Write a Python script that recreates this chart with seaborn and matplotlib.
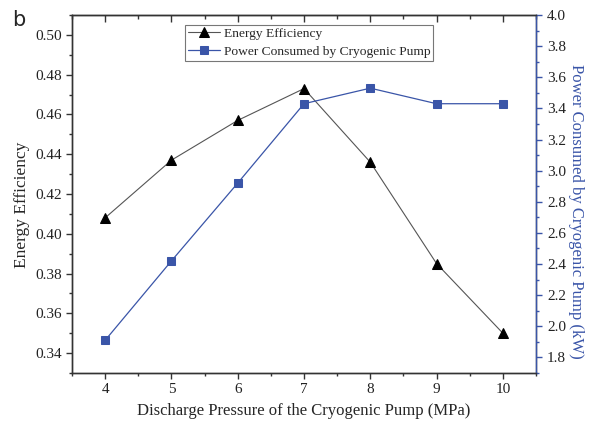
import matplotlib
matplotlib.use("Agg")
import matplotlib.pyplot as plt
import seaborn as sns
import pandas as pd
from matplotlib.ticker import MultipleLocator, FormatStrFormatter

pressure = [4, 5, 6, 7, 8, 9, 10]
energy_eff = [0.408, 0.437, 0.457, 0.473, 0.436, 0.385, 0.350]
power_kw = [1.91, 2.42, 2.92, 3.43, 3.53, 3.43, 3.43]

sns.set_style("ticks")
plt.rcParams['font.family'] = ['Liberation Serif', 'DejaVu Serif']

blue = "#3a55a8"
df = pd.DataFrame({"p": pressure, "e": energy_eff, "w": power_kw})

fig = plt.figure(figsize=(5.93, 4.25), dpi=100)
ax = fig.add_axes([0.1214, 0.1224, 0.7825, 0.8423])
ax2 = ax.twinx()

sns.lineplot(data=df, x="p", y="e", ax=ax, color="#555555", lw=0.8,
             marker="^", markersize=7, markerfacecolor="black",
             markeredgecolor="black", label="Energy Efficiency", legend=False)
sns.lineplot(data=df, x="p", y="w", ax=ax2, color=blue, lw=0.9,
             marker="s", markersize=6, markerfacecolor=blue,
             markeredgecolor=blue, label="Power Consumed by Cryogenic Pump", legend=False)

ax.set_xlim(3.5, 10.5)
ax.set_ylim(0.33, 0.51)
ax2.set_ylim(1.7, 4.0)
ax.xaxis.set_major_locator(MultipleLocator(1))
ax.xaxis.set_minor_locator(MultipleLocator(0.5))
ax.yaxis.set_major_locator(MultipleLocator(0.02))
ax.yaxis.set_minor_locator(MultipleLocator(0.01))
ax2.yaxis.set_major_locator(MultipleLocator(0.2))
ax2.yaxis.set_minor_locator(MultipleLocator(0.1))
ax.yaxis.set_major_formatter(FormatStrFormatter('%.2f'))
ax2.yaxis.set_major_formatter(FormatStrFormatter('%.1f'))

ax.set_xlabel("Discharge Pressure of the Cryogenic Pump (MPa)", fontsize=12, labelpad=5)
ax.set_ylabel("Energy Efficiency", fontsize=12.5, labelpad=4)
ax.yaxis.label.set_y(0.469)
ax2.set_ylabel("Power Consumed by Cryogenic Pump (kW)", fontsize=12, color=blue,
               rotation=270, labelpad=13)
ax2.yaxis.label.set_y(0.4525)

for a in (ax, ax2):
    for s in a.spines.values():
        s.set_linewidth(1.0)
        s.set_color("#333333")
ax2.spines['right'].set_color(blue)

ax.tick_params(axis='both', which='major', direction='out', length=4, width=1,
               labelsize=11, colors="#333333", labelcolor="#222222", pad=3)
ax.tick_params(axis='both', which='minor', direction='out', length=2.5, width=1, colors="#333333")
ax2.tick_params(axis='y', which='major', direction='out', length=4, width=1,
                labelsize=11, colors=blue, labelcolor="#222222", pad=4)
ax2.tick_params(axis='y', which='minor', direction='out', length=2.5, width=1, colors=blue)

top = ax.secondary_xaxis('top')
top.xaxis.set_major_locator(MultipleLocator(1))
top.xaxis.set_minor_locator(MultipleLocator(0.5))
top.tick_params(axis='x', which='major', direction='in', length=5, width=1,
                colors="#333333", labeltop=False)
top.tick_params(axis='x', which='minor', direction='in', length=3, width=1, colors="#333333")
top.spines['top'].set_color("#333333")

h1, l1 = ax.get_legend_handles_labels()
h2, l2 = ax2.get_legend_handles_labels()
leg = ax2.legend(h1 + h2, l1 + l2, loc='upper left', bbox_to_anchor=(0.2435, 0.972),
                 borderaxespad=0, fontsize=9.7, frameon=True, fancybox=False,
                 edgecolor="#555555", borderpad=0.2, labelspacing=0.4,
                 handlelength=2.4, handletextpad=0.3)
leg.get_frame().set_linewidth(0.8)

fig.text(0.02, 0.94, "b", fontsize=15, family="DejaVu Sans")

fig.savefig("out.png", dpi=100)
